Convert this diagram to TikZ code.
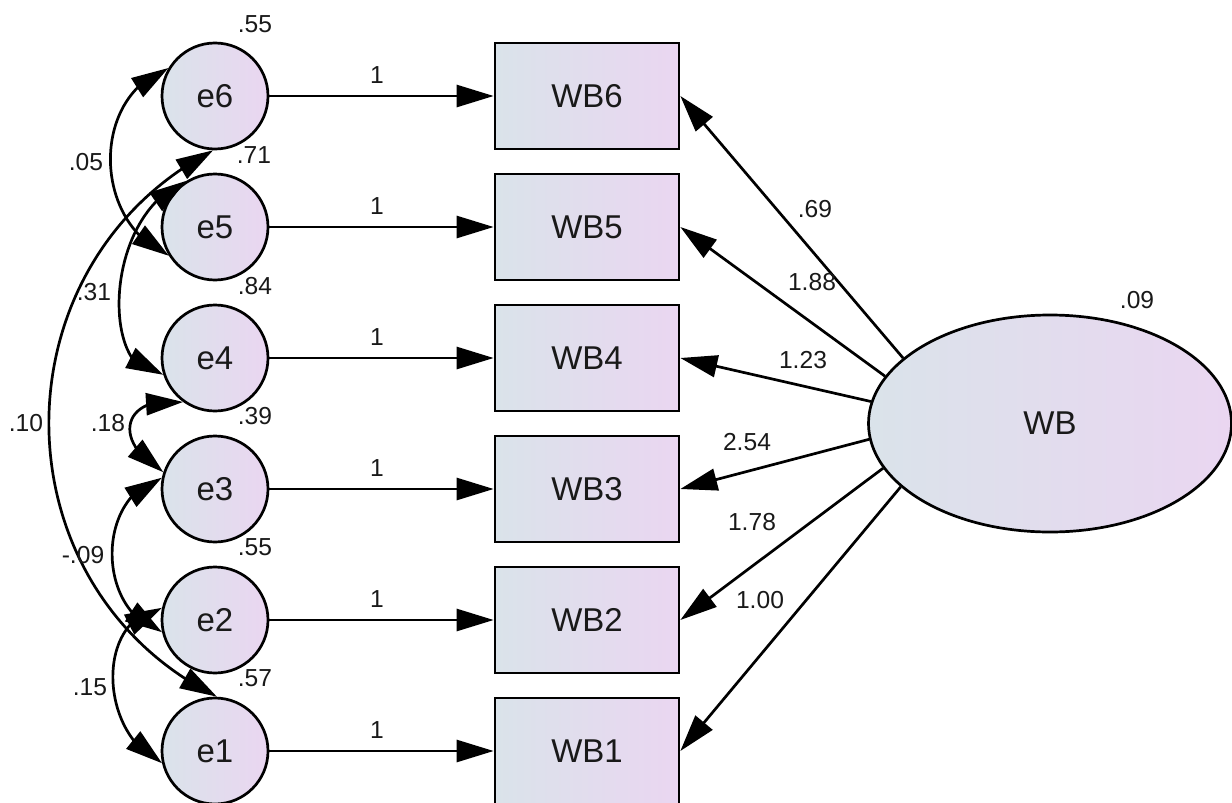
\documentclass[tikz,border=0pt]{standalone}
\usepackage{fontspec}
\setmainfont{Liberation Sans}
\usetikzlibrary{arrows.meta,shapes.geometric,bending}

\definecolor{fillL}{RGB}{218,227,234}
\definecolor{fillR}{RGB}{234,214,241}
\definecolor{ink}{RGB}{25,25,25}

\begin{document}
\begin{tikzpicture}[x=0.5pt,y=-0.5pt,line width=1.35pt,
  shadefill/.style={draw=black,line width=1.35pt,left color=fillL,right color=fillR,
    text=ink,font=\fontsize{16.5}{18}\selectfont,inner sep=0pt},
  err/.style={shadefill,circle,minimum size=53pt},
  obs/.style={shadefill,rectangle,minimum width=92pt,minimum height=53pt},
  lat/.style={shadefill,ellipse,minimum width=181.5pt,minimum height=108.5pt},
  lab/.style={font=\fontsize{12.3}{14}\selectfont,text=ink,inner sep=0pt},
  tip/.tip={Triangle[length=18.5pt,width=11pt]},
  reg/.style={-tip},
  cov/.style={tip-tip}]

% page frame
\fill[white] (0,0) rectangle (1232,803);
\useasboundingbox (0,0) rectangle (1232,803);

% error terms
\node[err] (e6) at (215,96)  {e6};
\node[err] (e5) at (215,227) {e5};
\node[err] (e4) at (215,358) {e4};
\node[err] (e3) at (215,489) {e3};
\node[err] (e2) at (215,620) {e2};
\node[err] (e1) at (215,751) {e1};

% observed indicators
\node[obs] (wb6) at (587,96)  {WB6};
\node[obs] (wb5) at (587,227) {WB5};
\node[obs] (wb4) at (587,358) {WB4};
\node[obs] (wb3) at (587,489) {WB3};
\node[obs] (wb2) at (587,620) {WB2};
\node[obs] (wb1) at (587,751) {WB1};

% latent factor
\node[lat] (wb) at (1050,423.5) {WB};

% error paths, fixed at 1
\draw[reg] (e6) -- (wb6);
\draw[reg] (e5) -- (wb5);
\draw[reg] (e4) -- (wb4);
\draw[reg] (e3) -- (wb3);
\draw[reg] (e2) -- (wb2);
\draw[reg] (e1) -- (wb1);
\node[lab] (one6) at (377,75)  {1};
\node[lab] (one5) at (377,206) {1};
\node[lab] (one4) at (377,337) {1};
\node[lab] (one3) at (377,468) {1};
\node[lab] (one2) at (377,599) {1};
\node[lab] (one1) at (377,730) {1};

% factor loadings
\draw[reg] (wb.156.6) -- (wb6.east);
\draw[reg] (wb.164.9) -- (wb5.east);
\draw[reg] (wb.173.7) -- (wb4.east);
\draw[reg] (wb.185.3) -- (wb3.east);
\draw[reg] (wb.195.6) -- (wb2.east);
\draw[reg] (wb.203.4) -- (wb1.east);
\node[lab] (ld6) at (815,209) {.69};
\node[lab] (ld5) at (812,282) {1.88};
\node[lab] (ld4) at (803,360) {1.23};
\node[lab] (ld3) at (747,442) {2.54};
\node[lab] (ld2) at (752,522) {1.78};
\node[lab] (ld1) at (760,600) {1.00};

% variances
\node[lab] (v6) at (255,24)  {.55};
\node[lab] (v5) at (254,155) {.71};
\node[lab] (v4) at (255,286) {.84};
\node[lab] (v3) at (255,416) {.39};
\node[lab] (v2) at (255,547) {.55};
\node[lab] (v1) at (255,678) {.57};
\node[lab] (vwb) at (1137,300) {.09};

% error covariances
\draw[cov] (e6.149) .. controls (90,96) and (92,223) .. (e5.212);
\draw[cov] (e5.122) .. controls (102,215) and (100,380) .. (e4.198);
\draw[cov] (e6.268) .. controls (-7,265) and (-6,586) .. (e1.88);
\draw[cov] (e4.234) .. controls (123,394) and (110,441) .. (e3.162);
\draw[cov] (e3.168) .. controls (95,496) and (96,612) .. (e2.193);
\draw[cov] (e2.167) .. controls (94,618) and (99,735) .. (e1.193);
\node[lab] (c65) at (86,162)  {.05};
\node[lab] (c54) at (94,292)  {.31};
\node[lab] (c61) at (26,423)  {.10};
\node[lab] (c43) at (108,423) {.18};
\node[lab] (c32) at (83,555)  {-.09};
\node[lab] (c21) at (90,687)  {.15};
\end{tikzpicture}
\end{document}
